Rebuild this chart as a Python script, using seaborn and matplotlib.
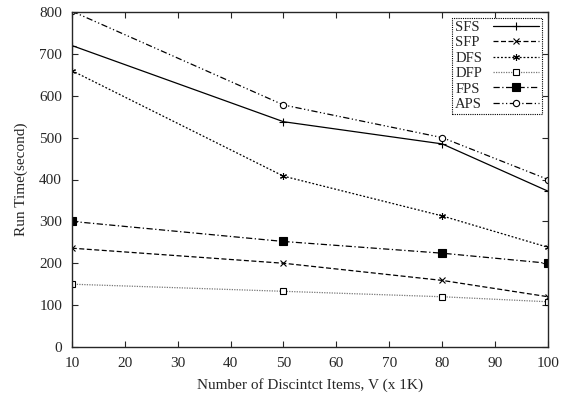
import seaborn as sns
import matplotlib.pyplot as plt
import pandas as pd

items = [10, 50, 80, 100]
sfs = [720, 538, 485, 372]
sfp = [236, 200, 159, 120]
dfs = [660, 408, 313, 238]
dfp = [150, 133, 120, 108]
fps = [300, 252, 224, 200]
aps = [802, 578, 500, 400]

names = ["SFS", "SFP", "DFS", "DFP", "FPS", "APS"]
series = [sfs, sfp, dfs, dfp, fps, aps]

rows = []
for n, vals in zip(names, series):
    for x, y in zip(items, vals):
        rows.append({"items": x, "time": y, "method": n})
df = pd.DataFrame(rows)

sns.set_style("ticks")
plt.rcParams['font.family'] = ['Liberation Serif', 'DejaVu Serif']

fig = plt.figure(figsize=(5.61, 4.0), dpi=100)
ax = fig.add_axes([0.128, 0.1325, 0.849, 0.8375])

colors = {"SFS": "black", "SFP": "black", "DFS": "black", "DFP": "#777777",
          "FPS": "black", "APS": "black"}
dashes = {"SFS": "", "SFP": (4, 2), "DFS": (1.5, 1.5), "DFP": (1, 1),
          "FPS": (5, 2, 1, 2), "APS": (5, 2, 1, 2, 1, 2)}
markers = {"SFS": "+", "SFP": "x", "DFS": (6, 2, 0), "DFP": "s", "FPS": "s", "APS": "o"}
faces = {"SFS": "black", "SFP": "black", "DFS": "black", "DFP": "white",
         "FPS": "black", "APS": "white"}
sizes = {"SFS": 6, "SFP": 4, "DFS": 5, "DFP": 4.5, "FPS": 6, "APS": 4.5}

for n in names:
    d = df[df.method == n]
    sns.lineplot(ax=ax, data=d, x="items", y="time", color=colors[n], lw=0.9,
                 dashes=False, label=n)
    line = ax.lines[-1]
    if dashes[n]:
        line.set_dashes(dashes[n])
    line.set_marker(markers[n])
    line.set_markersize(sizes[n])
    line.set_markerfacecolor(faces[n])
    line.set_markeredgecolor("black")
    line.set_markeredgewidth(0.8)

ax.set_xlim(10, 100)
ax.set_ylim(0, 800)
ax.set_xticks(range(10, 101, 10))
ax.set_yticks(range(0, 801, 100))
ax.tick_params(direction="in", top=True, right=True, labelsize=11, length=4,
               width=0.8, pad=7)
for s in ax.spines.values():
    s.set_linewidth(1.0)
    s.set_visible(True)

ax.set_xlabel("Number of Discintct Items, V (x 1K)", fontsize=11, labelpad=6)
ax.set_ylabel("Run Time(second)", fontsize=11, labelpad=8)

leg = ax.legend(loc="upper right", markerfirst=False, fontsize=10.5, handlelength=3.2,
                borderaxespad=0.4, borderpad=0.2, labelspacing=0.15, handletextpad=0.8,
                fancybox=False, framealpha=1)
leg.get_frame().set_edgecolor("black")
leg.get_frame().set_linestyle((0, (1, 1)))
leg.get_frame().set_linewidth(0.8)

# gnuplot-style key: labels flush left, samples flush right
for col in leg._legend_handle_box.get_children():
    col.align = "left"
    for row in col.get_children():
        row.mode = "expand"
        row.width = 84

fig.savefig("out.png", dpi=100)
